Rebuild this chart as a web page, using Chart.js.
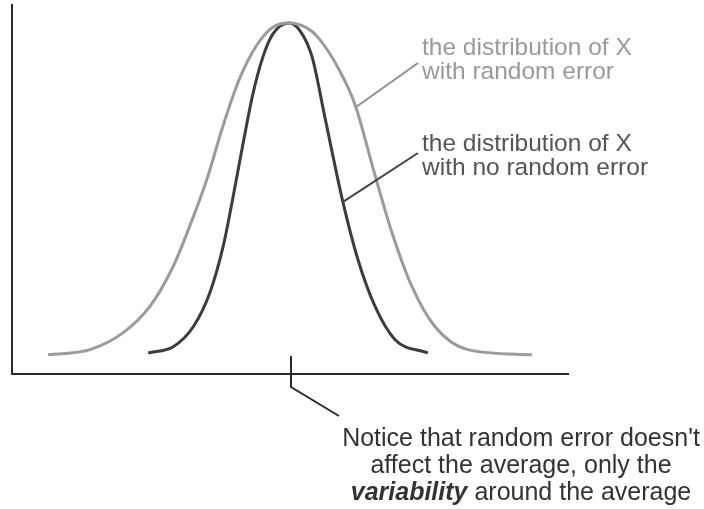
<!DOCTYPE html>
<html>
<head>
<meta charset="utf-8">
<script src="https://cdn.jsdelivr.net/npm/chart.js@4"></script>
<style>
  body { margin: 0; background: #fff; }
  #wrap { width: 704px; height: 509px; }
</style>
</head>
<body>
<div id="wrap"><canvas id="chart"></canvas></div>
<script>
// wide curve: distribution of X with random error (x, height)
const withErrorX = [6.5, 14.0, 20.0, 24.8, 29.0, 32.0, 35.1, 38.0, 41.0, 44.1, 46.9, 49.8, 53.0, 55.0, 58.6, 61.7, 65.3, 68.3, 71.9, 76.1, 82.0, 93.5];
const withErrorY = [5.2, 6.6, 11.2, 18.3, 29.2, 40.2, 53.0, 67.5, 80.3, 89.3, 94.0, 95.1, 93.8, 91.3, 83.1, 73.0, 53.8, 38.5, 23.8, 12.8, 6.6, 5.2];

// narrow curve: distribution of X with no random error
const noErrorX = [24.5, 29.0, 32.6, 35.6, 38.0, 39.7, 41.5, 43.3, 45.1, 46.9, 49.8, 52.0, 54.0, 56.3, 59.5, 62.2, 65.3, 68.9, 74.8];
const noErrorY = [5.7, 7.4, 12.8, 22.1, 34.7, 47.5, 62.0, 75.7, 85.8, 92.1, 95.1, 92.6, 85.8, 69.4, 46.7, 31.1, 18.3, 9.3, 5.7];

const meanX = 50;
const labelWithError = ["the distribution of X", "with random error"];
const labelNoError = ["the distribution of X", "with no random error"];
const noteLines = ["Notice that random error doesn't", "affect the average, only the"];
const noteBold = "variability";
const noteRest = " around the average";

const toPoints = (xs, ys) => xs.map((x, i) => ({ x: x, y: ys[i] }));

const FONT = '"Liberation Sans", Arial, sans-serif';

const notes = {
    id: "notes",
    afterDraw(chart) {
        const ctx = chart.ctx;
        const xs = chart.scales.x, ys = chart.scales.y;
        ctx.save();
        ctx.lineCap = "butt";

        // leader lines
        ctx.lineWidth = 2;
        ctx.strokeStyle = "#8f8f8f";
        ctx.beginPath();
        ctx.moveTo(xs.getPixelForValue(62.0), ys.getPixelForValue(72.5));
        ctx.lineTo(418, 63);
        ctx.stroke();
        ctx.strokeStyle = "#444";
        ctx.beginPath();
        ctx.moveTo(xs.getPixelForValue(59.4), ys.getPixelForValue(46.5));
        ctx.lineTo(418, 153);
        ctx.stroke();

        // mark at the average
        const mx = xs.getPixelForValue(meanX) + 1;
        ctx.strokeStyle = "#2a2a2a";
        ctx.lineWidth = 2;
        ctx.beginPath();
        ctx.moveTo(mx, ys.bottom - 18);
        ctx.lineTo(mx, ys.bottom + 13);
        ctx.lineTo(mx + 48, ys.bottom + 42);
        ctx.stroke();

        // text
        ctx.font = "24.5px " + FONT;
        ctx.textBaseline = "alphabetic";
        ctx.textAlign = "left";
        ctx.fillStyle = "#9a9a9a";
        ctx.fillText(labelWithError[0], 422, 55);
        ctx.fillText(labelWithError[1], 422, 79);
        ctx.fillStyle = "#555";
        ctx.fillText(labelNoError[0], 422, 151);
        ctx.fillText(labelNoError[1], 422, 175);

        ctx.fillStyle = "#333";
        ctx.textAlign = "center";
        const cx = 521;
        ctx.font = "25px " + FONT;
        ctx.fillText(noteLines[0], cx, 446);
        ctx.fillText(noteLines[1], cx, 473);
        ctx.textAlign = "left";
        ctx.font = "italic bold 25px " + FONT;
        const wb = ctx.measureText(noteBold).width;
        ctx.font = "25px " + FONT;
        const wr = ctx.measureText(noteRest).width;
        const x0 = cx - (wb + wr) / 2;
        ctx.font = "italic bold 25px " + FONT;
        ctx.fillText(noteBold, x0, 500);
        ctx.font = "25px " + FONT;
        ctx.fillText(noteRest, x0 + wb, 500);
        ctx.restore();
    }
};

new Chart(document.getElementById("chart"), {
    type: "line",
    data: {
        datasets: [
            {
                label: "with random error",
                data: toPoints(withErrorX, withErrorY),
                borderColor: "#9b9b9b",
                borderWidth: 3,
                cubicInterpolationMode: "monotone",
                pointRadius: 0,
                fill: false
            },
            {
                label: "with no random error",
                data: toPoints(noErrorX, noErrorY),
                borderColor: "#3c3c3c",
                borderWidth: 3,
                cubicInterpolationMode: "monotone",
                pointRadius: 0,
                fill: false
            }
        ]
    },
    options: {
        responsive: true,
        maintainAspectRatio: false,
        animation: false,
        layout: { padding: { left: 4, top: 5, right: 136, bottom: 127 } },
        plugins: { legend: { display: false }, tooltip: { enabled: false } },
        scales: {
            x: {
                type: "linear", min: 0, max: 100,
                grid: { display: false },
                ticks: { display: false },
                border: { display: true, color: "#2a2a2a", width: 2 }
            },
            y: {
                min: 0, max: 100,
                grid: { display: false },
                ticks: { display: false },
                border: { display: true, color: "#2a2a2a", width: 2 }
            }
        }
    },
    plugins: [notes]
});
</script>
</body>
</html>
